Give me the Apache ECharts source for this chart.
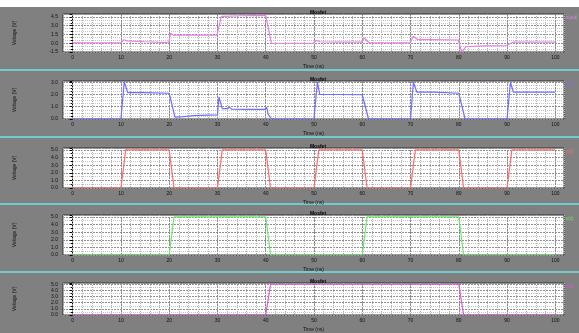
<!DOCTYPE html>
<html>
<head>
<meta charset="utf-8">
<script src="https://cdn.jsdelivr.net/npm/echarts@6/dist/echarts.min.js"></script>
<style>
  html, body { margin: 0; padding: 0; background: #808080; }
  #chart { width: 579px; height: 333px; }
</style>
</head>
<body>
<div id="chart"></div>
<script>
// major time ticks (ns)
const timeTicks = [0, 10, 20, 30, 40, 50, 60, 70, 80, 90, 100];

// panel 1 - output node
const outT = [0, 10, 10.6, 11.2, 15, 19.9, 20.3, 20.8, 25, 29.9, 30.8, 35, 40, 41.2, 45, 49.9, 50.5, 51.2, 55, 59.9, 60.4, 61.5, 65, 69.9, 70.6, 71.5, 75, 79.9, 80.6, 81.5, 85, 89.9, 91.3, 95, 100];
const outV = [0.05, 0.05, 0.6, 0.4, 0.25, 0.1, 1.7, 1.4, 1.38, 1.4, 4.6, 4.7, 4.75, -0.05, 0.0, 0.0, 0.5, 0.25, 0.2, 0.2, 0.9, 0.05, 0.05, 0.05, 1.2, 0.6, 0.6, 0.55, -1.5, -0.6, -0.45, -0.4, 0.2, 0.2, 0.2];

// panel 2
const aT = [0, 10, 10.7, 11.4, 15, 20, 20.3, 21.2, 23, 25, 30, 30.3, 31, 32, 32.5, 33, 36, 39.9, 40.2, 40.5, 41.2, 45, 50, 50.7, 51.2, 55, 60, 60.3, 61.3, 65, 70, 70.6, 71.3, 75, 80, 80.3, 81.3, 85, 90, 90.7, 91.3, 95, 100];
const aV = [0, 0, 3.05, 2.15, 2.15, 2.1, 2.0, 0.15, 0.2, 0.28, 0.34, 1.8, 0.85, 0.85, 0.95, 0.8, 0.78, 0.78, 0.95, 0.4, 0, 0, 0, 3.0, 2.0, 2.0, 1.98, 1.9, 0, 0, 0, 3.0, 2.2, 2.2, 2.1, 2.0, 0, 0, 0, 3.0, 2.2, 2.2, 2.2];

// panel 3
const bT = [0, 10, 11, 20, 21, 30, 31, 40, 41, 50, 51, 60, 61, 70, 71, 80, 81, 90, 91, 100];
const bV = [0, 0, 5, 5, 0, 0, 5, 5, 0, 0, 5, 5, 0, 0, 5, 5, 0, 0, 5, 5];

// panel 4
const cT = [0, 20, 21, 40, 41, 60, 61, 80, 81, 100];
const cV = [0, 0, 5, 5, 0, 0, 5, 5, 0, 0];

// panel 5
const dT = [0, 40, 41, 80, 81, 100];
const dV = [0, 0, 5, 5, 0, 0];

const names = ["v(out)", "v(a)", "v(b)", "v(c)", "v(d)"];
const times = [outT, aT, bT, cT, dT];
const values = [outV, aV, bV, cV, dV];

// y axis setup per panel: min, max, step, minor divisions
const yMin = [-1.5, 0, 0, 0, 0];
const yMax = [5.0, 3.1, 5.25, 5.25, 5.2];
const yStep = [1.5, 1, 1, 1, 1];
const yMinor = [3, 4, 2, 2, 2];

// layout
const colors = ["#e880e8", "#6f6fff", "#ff6b6b", "#6de86d", "#d65ad6"];
const tops = [14, 81, 148, 215, 283];
const heights = [38, 38, 40, 40, 38];
const font = "Liberation Sans";

const chart = echarts.init(document.getElementById("chart"));

const grid = [], xAxis = [], yAxis = [], series = [], title = [], legend = [];
for (let i = 0; i < 5; i++) {
  grid.push({
    left: 63, right: 15, top: tops[i], height: heights[i],
    show: true, backgroundColor: "#fff", borderColor: "#333", borderWidth: 1,
  });
  xAxis.push({
    type: "value", gridIndex: i, min: -2, max: 101.8, interval: 2,
    name: "Time (ns)", nameLocation: "middle", nameGap: 12,
    nameTextStyle: { fontSize: 5, color: "#111", fontFamily: font },
    axisLine: { show: false },
    axisTick: { show: false },
    axisLabel: {
      fontSize: 5, color: "#111", margin: 3, fontFamily: font,
      formatter: (v) => (Math.abs(v % 10) < 1e-6 && v >= 0 ? String(v) : ""),
    },
    splitLine: { show: true, lineStyle: { color: "#b0b0b0", type: [1, 1] } },
  });
  yAxis.push({
    type: "value", gridIndex: i, min: yMin[i], max: yMax[i], interval: yStep[i],
    name: "Voltage (V)", nameLocation: "middle", nameGap: 46, nameRotate: 90,
    nameTextStyle: { fontSize: 5, color: "#111", fontFamily: font },
    axisLine: { show: true, lineStyle: { color: "#000" } },
    axisTick: { show: true, length: 3, lineStyle: { color: "#000" } },
    minorTick: { show: true, splitNumber: yMinor[i], length: 2, lineStyle: { color: "#000" } },
    axisLabel: {
      fontSize: 5, color: "#111", margin: 5, fontFamily: font,
      showMaxLabel: false,
      formatter: (v) => v.toFixed(1),
    },
    splitLine: { show: true, lineStyle: { color: "#909090", type: [2, 1] } },
    minorSplitLine: { show: true, lineStyle: { color: "#c4c4c4", type: [1, 1] } },
  });
  const pts = times[i].map((t, k) => [t, values[i][k]]);
  series.push({
    name: names[i], type: "line", xAxisIndex: i, yAxisIndex: i,
    data: pts, showSymbol: false, animation: false,
    lineStyle: { color: colors[i], width: 1.2 },
    itemStyle: { color: colors[i] },
    markLine: {
      silent: true, symbol: "none", label: { show: false },
      lineStyle: { color: "#8a8a8a", type: [2, 1], width: 1 },
      data: timeTicks.map((t) => ({ xAxis: t })),
      z: 1,
    },
    z: 5,
  });
  title.push({
    text: "Mosfet", left: 313, textAlign: "center", top: tops[i] - 9,
    textStyle: { fontSize: 5, fontWeight: "bold", color: "#000", fontFamily: font },
  });
  legend.push({
    data: [names[i]], left: 566, top: tops[i] + 1, orient: "vertical",
    icon: "none", itemWidth: 0, itemHeight: 1, itemGap: 1, padding: 0,
    textStyle: { fontSize: 4.5, color: colors[i], fontFamily: font, padding: [0, 0, 0, -5] },
  });
}

const graphic = [
  { type: "rect", left: 0, top: 0, shape: { width: 579, height: 7 }, style: { fill: "#fff" } },
];
[69, 136, 203, 271].forEach((y) => {
  graphic.push({ type: "rect", left: 0, top: y, shape: { width: 579, height: 2 }, style: { fill: "#72cccc" } });
});

const option = {
  backgroundColor: "#808080",
  animation: false,
  title, legend, grid, xAxis, yAxis, series, graphic,
};
chart.setOption(option);
</script>
</body>
</html>
